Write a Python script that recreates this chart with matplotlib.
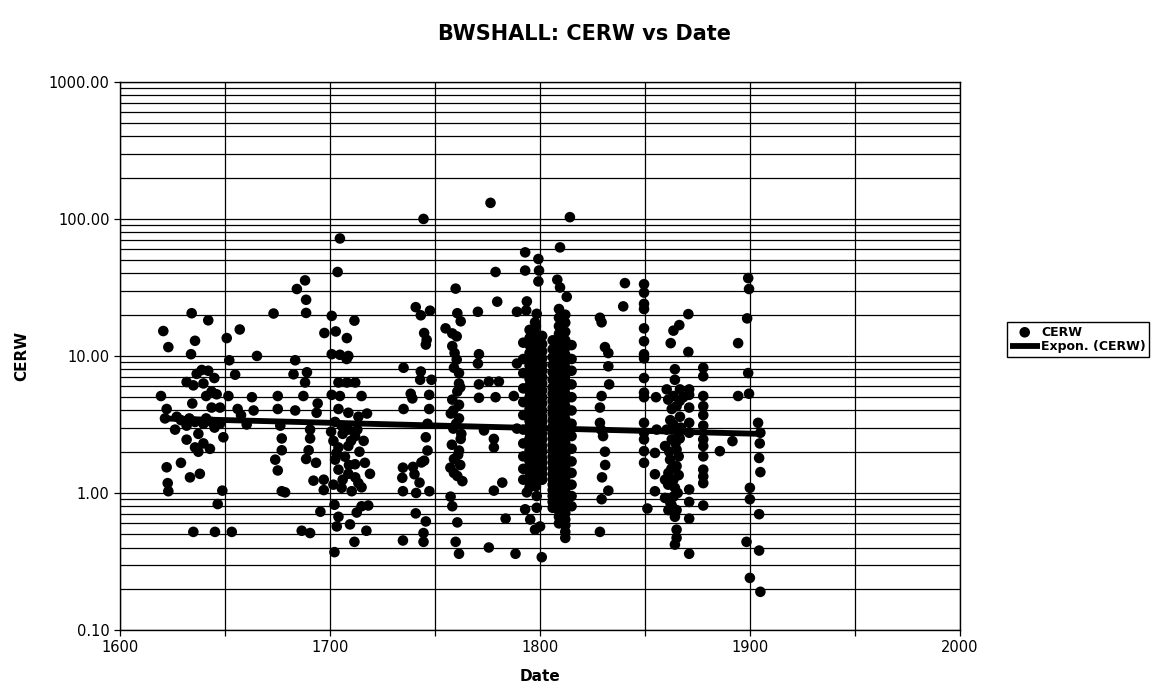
import matplotlib
matplotlib.use("Agg")
import matplotlib.pyplot as plt
import numpy as np
from matplotlib.ticker import FuncFormatter, LogLocator, MultipleLocator, NullFormatter

plt.rcParams["font.family"] = ["DejaVu Sans"]

# --- CERW readings by period (date, value) ---
dates_1620s = [1634.1, 1642.0, 1620.6, 1635.7, 1623.0, 1633.8, 1650.8, 1657.0, 1652.0, 1654.8,
               1636.5, 1638.9, 1642.0, 1644.9, 1631.7, 1634.9, 1639.7, 1643.6, 1646.0, 1641.0,
               1619.5, 1651.6, 1622.2, 1634.4, 1643.6, 1647.6, 1656.0, 1657.6, 1660.3,
               1621.4, 1627.0, 1631.7, 1635.7, 1639.7, 1643.6, 1647.6, 1626.2, 1637.3, 1631.7,
               1635.7, 1639.7, 1642.8, 1637.3, 1649.2, 1629.0, 1633.0, 1641.0, 1645.0,
               1622.2, 1629.0, 1633.3, 1638.0, 1622.7, 1623.0, 1648.7, 1646.5, 1634.9, 1645.2, 1653.2]
cerw_1620s = [20.5, 18.2, 15.2, 12.9, 11.6, 10.3, 13.5, 15.6, 9.3, 7.3,
              7.4, 7.9, 7.8, 6.9, 6.45, 6.1, 6.3, 5.5, 5.25, 5.1,
              5.1, 5.1, 4.1, 4.5, 4.2, 4.2, 4.1, 3.7, 3.16,
              3.5, 3.6, 3.1, 3.3, 3.2, 3.3, 3.2, 2.9, 2.7, 2.45,
              2.15, 2.3, 2.1, 2.0, 2.55, 3.4, 3.5, 3.5, 3.0,
              1.54, 1.66, 1.3, 1.38, 1.18, 1.03, 1.04, 0.83, 0.52, 0.52, 0.52]

dates_1700s = [1704.7, 1703.6, 1688.1, 1684.2, 1688.6, 1673.1, 1688.6, 1700.8, 1711.6, 1697.3,
               1702.7, 1708.0, 1665.2, 1683.4, 1700.8, 1704.7, 1708.7, 1707.9, 1682.6, 1689.0,
               1688.1, 1704.0, 1708.0, 1712.0, 1662.8, 1675.1, 1687.3, 1700.8, 1704.7, 1715.0,
               1694.1, 1663.6, 1675.1, 1683.4, 1693.6, 1704.0, 1708.7, 1713.5, 1717.6, 1676.3,
               1690.5, 1702.4, 1705.5, 1708.7, 1711.9, 1677.0, 1690.5, 1701.6, 1704.0, 1708.7,
               1677.0, 1689.8, 1673.9, 1675.1, 1688.6, 1693.3, 1702.4, 1707.1, 1711.9, 1716.6,
               1719.0, 1704.0, 1708.7, 1713.5, 1692.1, 1697.0, 1701.6, 1705.5, 1710.3, 1677.0,
               1678.6, 1697.0, 1695.4, 1702.1, 1704.0, 1703.2, 1715.0, 1718.2, 1712.7, 1709.5,
               1686.5, 1690.5, 1717.3, 1711.6, 1702.1, 1706.0, 1710.0, 1714.0, 1703.0, 1709.0,
               1712.0, 1706.0, 1715.0, 1700.5, 1713.0, 1716.0]
cerw_1700s = [72, 41, 35.6, 30.8, 25.7, 20.4, 20.6, 19.6, 18.1, 14.7,
              15.1, 13.5, 10.0, 9.3, 10.3, 10.2, 10.0, 9.5, 7.35, 7.6,
              6.4, 6.4, 6.4, 6.4, 5.0, 5.1, 5.1, 5.2, 5.1, 5.1,
              4.5, 4.0, 4.1, 4.0, 3.85, 4.1, 3.85, 3.6, 3.8, 3.1,
              2.9, 3.3, 3.1, 2.9, 2.6, 2.5, 2.5, 2.4, 2.15, 2.2,
              2.05, 2.05, 1.75, 1.46, 1.77, 1.66, 1.75, 1.84, 1.62, 1.66,
              1.38, 1.48, 1.38, 1.18, 1.23, 1.25, 1.15, 1.09, 1.03, 1.03,
              1.01, 1.05, 0.73, 0.82, 0.67, 0.57, 0.80, 0.81, 0.72, 0.59,
              0.53, 0.51, 0.53, 0.44, 0.37, 2.7, 2.4, 2.0, 1.95, 1.6,
              1.3, 1.25, 1.1, 2.8, 2.9, 2.4]

dates_1750s = [1776.4, 1744.5, 1778.8, 1759.8, 1779.6, 1740.8, 1743.2, 1747.6, 1760.6, 1762.2,
               1770.4, 1789.0, 1755.0, 1758.2, 1760.3, 1744.8, 1746.0, 1745.6, 1758.2, 1759.3,
               1760.3, 1770.9, 1770.4, 1789.0, 1735.0, 1743.2, 1742.9, 1748.3, 1761.4, 1761.4,
               1760.6, 1758.2, 1761.4, 1770.9, 1775.6, 1780.4, 1738.4, 1739.2, 1747.2, 1747.2,
               1770.9, 1778.8, 1787.5, 1735.0, 1758.7, 1761.4, 1746.4, 1745.6, 1746.4, 1744.8,
               1758.7, 1762.2, 1761.4, 1759.0, 1757.3, 1760.6, 1763.0, 1773.3, 1778.0, 1778.0,
               1789.0, 1734.7, 1739.5, 1743.5, 1734.4, 1740.2, 1742.6, 1734.7, 1741.0, 1747.3,
               1782.0, 1778.0, 1757.4, 1758.2, 1740.8, 1745.6, 1760.6, 1783.6, 1734.7, 1744.5,
               1744.5, 1759.8, 1761.4, 1775.6, 1788.3, 1759.0, 1762.0, 1757.5, 1760.0, 1762.5,
               1758.0, 1761.0, 1762.0, 1759.0]
cerw_1750s = [131, 100, 41, 31, 24.9, 22.7, 19.8, 21.4, 20.5, 17.9,
              21, 21, 15.9, 14.6, 13.9, 14.7, 13.1, 12.1, 11.8, 10.5,
              9.4, 10.3, 8.8, 8.8, 8.2, 7.7, 6.7, 6.7, 7.5, 6.3,
              5.5, 4.8, 4.4, 6.2, 6.5, 6.5, 5.3, 4.9, 5.2, 4.1,
              4.95, 5.0, 5.1, 4.1, 4.0, 3.5, 3.2, 2.55, 2.04, 1.72,
              2.95, 2.48, 2.04, 1.77, 1.53, 1.33, 1.22, 2.86, 2.48, 2.15,
              2.95, 1.53, 1.55, 1.67, 1.29, 1.37, 1.19, 1.03, 1.0, 1.03,
              1.19, 1.04, 0.94, 0.80, 0.71, 0.62, 0.61, 0.65, 0.45, 0.51,
              0.44, 0.44, 0.36, 0.40, 0.36, 8.2, 5.9, 3.8, 3.2, 2.7,
              2.25, 1.9, 1.6, 1.4]

dates_1800s = [1814.2, 1809.5, 1792.9, 1799.2, 1792.9, 1799.5, 1799.2, 1808.2, 1809.5, 1812.7,
               1793.7, 1793.4, 1798.4, 1797.6, 1840.4, 1839.6, 1828.5, 1829.3, 1830.9, 1832.5,
               1832.5, 1832.9, 1829.3, 1828.5, 1828.5, 1830.9, 1832.5, 1829.3, 1828.5, 1800.8,
               1830.0, 1831.0, 1829.5, 1829.0,
               1793.7, 1798.4, 1792.9, 1798.4, 1795.3, 1800.0, 1797.6]
cerw_1800s = [103, 62, 57, 51, 42, 42, 35, 36, 31.6, 27,
              25, 21.5, 20.3, 17.6, 34, 23, 19, 17.6, 11.6, 10.5,
              8.4, 6.2, 5.1, 4.2, 3.25, 2.0, 1.04, 0.90, 0.52, 0.34,
              2.6, 1.6, 1.3, 2.9,
              1.01, 0.95, 0.76, 0.78, 0.64, 0.57, 0.54]

# densely sampled years around 1800/1810: one list of values per date
column_dates = [1792.0, 1795.0, 1798.0, 1801.0, 1806.0, 1809.0, 1812.0, 1815.0]
column_cerw = [
    [12.5, 9.5, 7.5, 5.8, 4.6, 3.7, 2.9, 2.3, 1.85, 1.5, 1.25],
    [15.5, 13.5, 12, 10.5, 9.5, 8.5, 7.6, 6.8, 6.1, 5.5, 5.0, 4.5, 4.1, 3.7, 3.35,
     3.05, 2.75, 2.5, 2.25, 2.05, 1.85, 1.7, 1.55, 1.42, 1.3, 1.2, 1.1],
    [16.5, 14.5, 12.5, 11, 9.9, 8.9, 8.0, 7.2, 6.5, 5.8, 5.2, 4.7, 4.3, 3.9, 3.5,
     3.2, 2.9, 2.6, 2.35, 2.15, 1.95, 1.78, 1.62, 1.48, 1.35, 1.23, 1.12],
    [14, 12.2, 10.8, 9.6, 8.6, 7.8, 7.0, 6.3, 5.6, 5.0, 4.5, 4.0, 3.6, 3.3, 3.0,
     2.7, 2.45, 2.2, 2.0, 1.8, 1.65, 1.5, 1.37, 1.25],
    [13, 11.2, 9.8, 8.6, 7.6, 6.7, 5.9, 5.3, 4.7, 4.2, 3.8, 3.4, 3.05, 2.75, 2.5,
     2.25, 2.05, 1.85, 1.68, 1.52, 1.38, 1.26, 1.15, 1.05, 0.95, 0.86, 0.78],
    [22, 19, 16.5, 14.5, 12.8, 11.3, 10, 8.9, 8.0, 7.2, 6.4, 5.7, 5.1, 4.6, 4.1,
     3.7, 3.3, 3.0, 2.7, 2.45, 2.2, 2.0, 1.8, 1.63, 1.48, 1.35, 1.22, 1.1, 1.0,
     0.9, 0.82, 0.74, 0.67, 0.6],
    [20, 17.5, 15, 13, 11.5, 10.2, 9.1, 8.2, 7.3, 6.6, 5.9, 5.3, 4.8, 4.3, 3.85,
     3.45, 3.1, 2.8, 2.55, 2.3, 2.1, 1.9, 1.72, 1.56, 1.42, 1.29, 1.17, 1.06, 0.96,
     0.87, 0.79, 0.71, 0.64, 0.58, 0.52, 0.47],
    [12, 9.5, 7.8, 6.2, 5.0, 4.0, 3.2, 2.6, 2.1, 1.7, 1.4, 1.15, 0.95, 0.8],
]

dates_1850s = [1849.5] * 16 + [1851.1] + [
    1870.6, 1866.3, 1863.5, 1862.2, 1870.6, 1894.3, 1899.1, 1899.5, 1898.6, 1899.1,
    1899.5, 1894.3, 1903.8, 1904.9, 1904.6, 1904.3, 1904.9, 1899.9, 1899.9, 1904.3,
    1898.3, 1904.3, 1899.9, 1904.9, 1891.6, 1885.6] + [1877.7] * 13 + [1871.0] * 9 + [
    1864.2, 1864.2, 1866.6, 1860.3, 1863.5, 1868.2, 1865.0, 1862.7, 1866.6, 1863.5,
    1860.3, 1865.8, 1862.7, 1859.5, 1865.0, 1861.9, 1865.0, 1861.1, 1863.5, 1859.5,
    1864.2, 1863.5, 1862.7, 1865.0, 1864.2, 1865.0, 1865.0, 1864.2, 1855.2, 1855.5,
    1854.7, 1854.7, 1854.7, 1859.5, 1861.1, 1862.0, 1864.5, 1861.5, 1866.0, 1862.5,
    1866.0, 1861.0, 1865.5, 1862.0, 1866.5, 1861.0, 1867.0, 1866.5]
cerw_1850s = [33.4, 29, 24, 22, 15.9, 12.8, 10.3, 9.6, 6.9, 5.4, 5.0, 3.25, 2.75, 2.46,
              2.02, 1.66, 0.77,
              20.2, 16.8, 15.3, 12.4, 10.7, 12.4, 37, 30.8, 18.8, 7.5,
              5.3, 5.1, 3.25, 2.75, 2.3, 1.8, 1.42, 1.09, 0.90, 0.70,
              0.44, 0.38, 0.24, 0.19, 2.39, 2.02,
              8.2, 7.1, 5.1, 4.3, 3.7, 3.1, 2.46, 2.2, 1.85, 1.48, 1.32, 1.18, 0.81,
              5.7, 5.2, 4.2, 3.25, 2.75, 1.06, 0.86, 0.65, 0.36,
              8.0, 6.7, 5.7, 5.7, 5.1, 5.0, 4.3, 4.1, 3.6, 3.16,
              2.9, 2.75, 2.46, 2.2, 2.07, 1.75, 1.57, 1.4, 1.25, 1.25,
              1.09, 0.94, 0.81, 0.75, 0.67, 0.54, 0.47, 0.42, 5.0, 2.9,
              1.96, 1.37, 1.03, 0.92, 0.75, 3.4, 2.3, 2.0, 1.85, 1.5,
              1.35, 1.15, 1.0, 0.85, 4.7, 4.8, 3.0, 2.5]

# exponential trendline values at the first and last dates
trend_dates = [1619.5, 1904.9]
trend_cerw = [3.5, 2.7]

# assemble all observations
col_x = [d for d, vals in zip(column_dates, column_cerw) for _ in vals]
col_y = [v for vals in column_cerw for v in vals]
date = np.array(dates_1620s + dates_1700s + dates_1750s + dates_1800s + col_x + dates_1850s)
cerw = np.array(cerw_1620s + cerw_1700s + cerw_1750s + cerw_1800s + col_y + cerw_1850s)

# y = a * exp(b * x) through the two trend values
b = np.log(trend_cerw[1] / trend_cerw[0]) / (trend_dates[1] - trend_dates[0])
trend_x = np.linspace(trend_dates[0], trend_dates[1], 50)
trend_y = trend_cerw[0] * np.exp(b * (trend_x - trend_dates[0]))

fig = plt.figure(figsize=(11.7, 7.0), dpi=100)
ax = fig.add_axes([0.1026, 0.10, 0.718, 0.783])

pts = ax.scatter(date, cerw, s=58, c="black", edgecolors="none", zorder=3, label="CERW")
line, = ax.plot(trend_x, trend_y, color="black", lw=4.2, solid_capstyle="butt",
                zorder=4, label="Expon. (CERW)")

ax.set_yscale("log")
ax.set_xlim(1600, 2000)
ax.set_ylim(0.1, 1000)

ax.xaxis.set_major_locator(MultipleLocator(100))
ax.xaxis.set_minor_locator(MultipleLocator(50))
ax.yaxis.set_major_locator(LogLocator(base=10))
ax.yaxis.set_minor_locator(LogLocator(base=10, subs=np.arange(2, 10)))
ax.yaxis.set_minor_formatter(NullFormatter())
ax.yaxis.set_major_formatter(FuncFormatter(lambda v, _: f"{v:.2f}"))

ax.grid(True, which="both", color="black", lw=0.9, zorder=0)
ax.set_axisbelow(True)
ax.tick_params(axis="both", which="major", direction="out", length=4, width=0.9,
               labelsize=10.5, colors="black")
ax.tick_params(axis="x", which="minor", direction="out", length=4, width=0.9)
ax.tick_params(axis="y", which="minor", length=0)
for s in ax.spines.values():
    s.set_color("black")
    s.set_linewidth(1.0)

ax.set_xlabel("Date", fontsize=11, fontweight="bold", labelpad=10)
ax.set_ylabel("CERW", fontsize=11, fontweight="bold", labelpad=14)
fig.suptitle("BWSHALL: CERW vs Date", x=0.5, y=0.965, fontsize=15, fontweight="bold")

leg = fig.legend(handles=[pts, line], loc="center left", bbox_to_anchor=(0.855, 0.515),
                 frameon=True, fancybox=False, edgecolor="black", framealpha=1,
                 prop={"weight": "bold", "size": 9}, handlelength=2.4,
                 handletextpad=0.1, borderpad=0.25, labelspacing=0.15, scatterpoints=1)
leg.get_frame().set_linewidth(1.0)

fig.savefig("out.png", dpi=100)
